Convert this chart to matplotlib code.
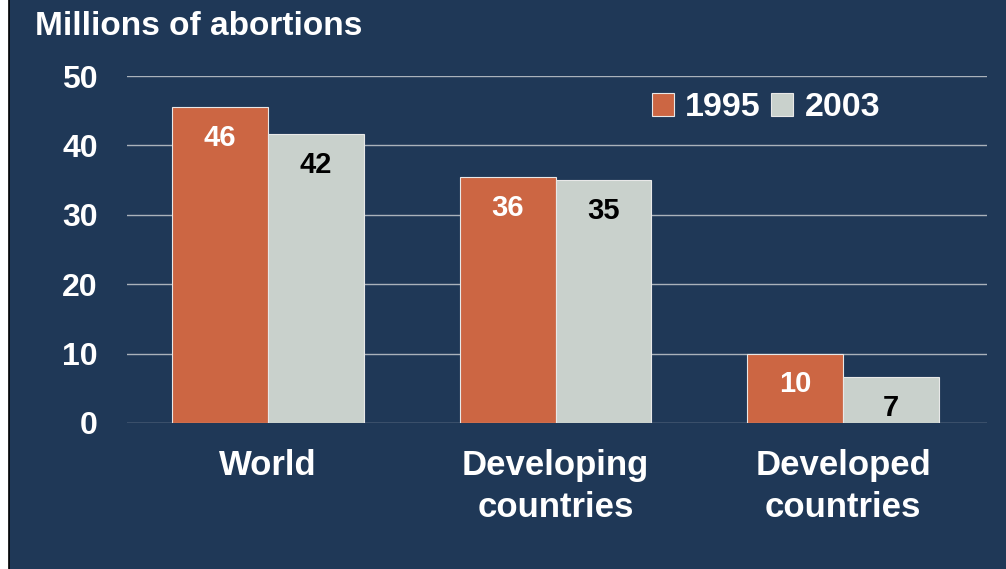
import matplotlib.pyplot as plt
import matplotlib.patches as mpatches
import numpy as np

# data
categories = ['World', 'Developing\ncountries', 'Developed\ncountries']
values_1995 = [45.5, 35.4, 10.0]
values_2003 = [41.6, 35.0, 6.6]
labels_1995 = ['46', '36', '10']
labels_2003 = ['42', '35', '7']
yticks = [0, 10, 20, 30, 40, 50]

navy = '#1f3857'
orange = '#cc6643'
grey = '#c9d1cc'

plt.rcParams['font.family'] = ['Liberation Sans', 'DejaVu Sans']
plt.rcParams['font.weight'] = 'bold'

fig = plt.figure(figsize=(10.06, 5.69), dpi=100, facecolor='white')
#navy panel with black left edge
fig.patches.append(mpatches.Rectangle((8.5/1006, -0.01), 1.0, 1.02, transform=fig.transFigure,
                                      facecolor=navy, edgecolor='black', linewidth=1.2, zorder=-5))

ax = fig.add_axes([127/1006, 1-423/569, 860/1006, 347/569])
ax.set_facecolor('none')

x = np.arange(len(categories))
w = 1/3
b1 = ax.bar(x - w/2, values_1995, w, color=orange, edgecolor='#e8e8e8', linewidth=0.8, zorder=3)
b2 = ax.bar(x + w/2, values_2003, w, color=grey, edgecolor='#e8e8e8', linewidth=0.8, zorder=3)

for rect, lab in zip(b1, labels_1995):
    ax.annotate(lab, (rect.get_x() + rect.get_width()/2, rect.get_height()), xytext=(0, -22),
                textcoords='offset points', ha='center', va='center', color='white',
                fontsize=21, fontweight='bold', zorder=4)
for rect, lab in zip(b2, labels_2003):
    ax.annotate(lab, (rect.get_x() + rect.get_width()/2, rect.get_height()), xytext=(0, -22),
                textcoords='offset points', ha='center', va='center', color='black',
                fontsize=21, fontweight='bold', zorder=4)

ax.set_xlim(-0.49, 2.5)
ax.set_ylim(0, 50)
ax.set_yticks(yticks)
ax.set_xticks(x)
ax.set_xticklabels(categories, fontsize=25, fontweight='bold', color='white', linespacing=1.33)
ax.tick_params(axis='y', length=0, pad=21, labelsize=23, labelcolor='white')
ax.tick_params(axis='x', length=0, pad=19)
ax.grid(axis='y', color='#aab2bb', linewidth=1.0, zorder=1)
for s in ax.spines.values():
    s.set_visible(False)

fig.text(35/1006, 1-35/569, 'Millions of abortions', fontsize=24, fontweight='bold',
         color='white', ha='left', va='baseline')

leg = ax.legend([b1, b2], ['1995', '2003'], loc='center left',
                bbox_to_anchor=(652/1006, 1-108/569), bbox_transform=fig.transFigure,
                ncol=2, frameon=False, fontsize=24.5, handlelength=0.65, handleheight=0.65,
                handletextpad=0.33, columnspacing=0.3, borderpad=0, borderaxespad=0)
for t in leg.get_texts():
    t.set_color('white')
    t.set_fontweight('bold')

fig.savefig('out.png', dpi=100, facecolor=fig.get_facecolor())
